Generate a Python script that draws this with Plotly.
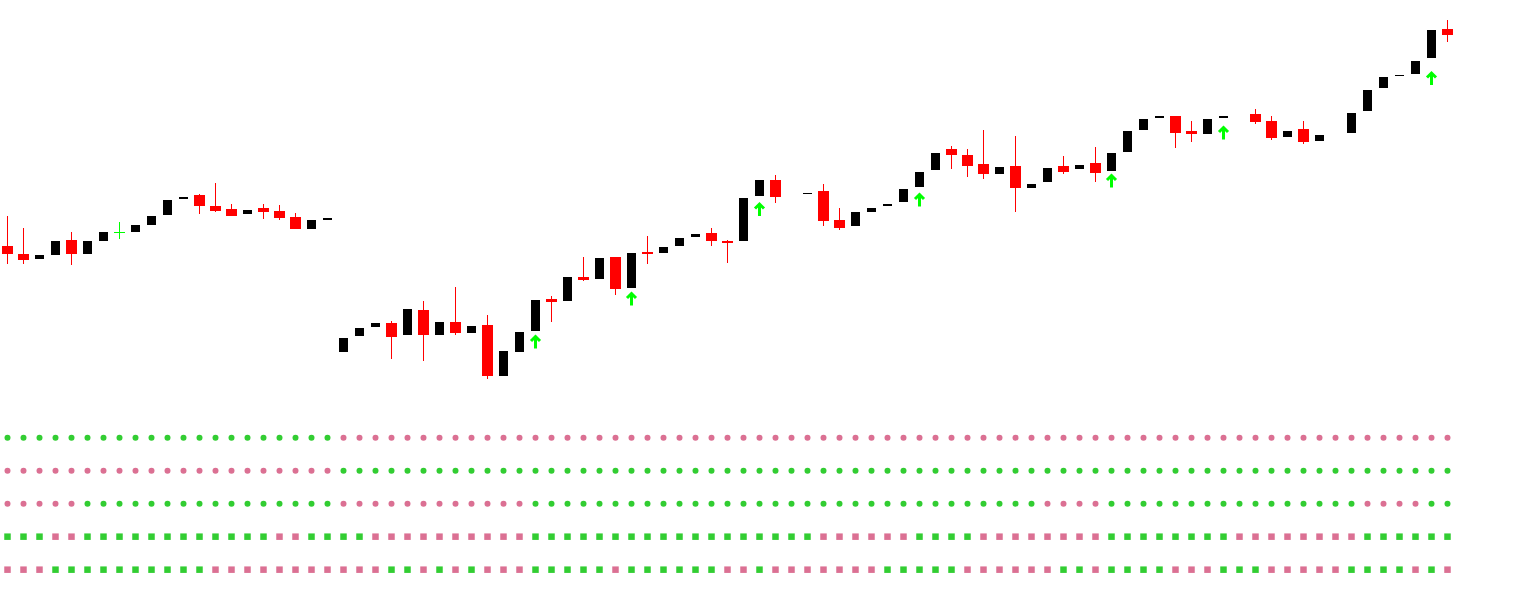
import plotly.graph_objects as go

# ---------------- data ----------------
bar_index = list(range(91))

opens = [
    115.4, 114.6, 114.1, 114.5, 116.0, 114.6, 115.9, 116.75, 116.8, 117.5,
    118.5, 120.1, 120.5, 119.4, 119.1, 118.6, 119.2, 118.9, 118.3, 117.1,
    118.0, 104.8, 106.4, 107.3, 107.7, 106.5, 109.0, 106.5, 107.8, 106.7,
    107.5, 102.4, 104.8, 106.9, 110.1, 109.9, 112.3, 112.1, 114.3, 111.2,
    114.8, 114.7, 115.4, 116.3, 116.7, 115.9, 115.9, 120.4, 122.0, None,
    120.6, 120.9, 118.0, 117.4, 118.8, 119.4, 119.8, 121.3, 123.0, 125.1,
    124.5, 123.6, 122.6, 123.4, 121.2, 121.8, 123.4, 123.1, 123.7, 122.9,
    124.8, 127.0, 128.2, 128.4, 126.9, 126.6, 128.2, None, 128.6, 127.9,
    126.3, 127.1, 125.9, None, 126.7, 128.9, 131.2, 132.4, 132.6, 134.2,
    137.1]

closes = [
    114.6, 114.0, 114.5, 115.9, 114.6, 115.9, 116.8, 116.75, 117.5, 118.4,
    120.0, 120.3, 119.4, 118.9, 118.4, 119.0, 118.8, 118.2, 117.1, 118.0,
    118.2, 106.2, 107.2, 107.7, 106.3, 109.1, 106.5, 107.8, 106.7, 107.4,
    102.4, 104.9, 106.8, 110.0, 109.8, 112.3, 112.0, 114.2, 111.1, 114.7,
    114.6, 115.3, 116.2, 116.6, 115.9, 115.7, 120.2, 122.0, 120.3, None,
    120.7, 117.9, 117.2, 118.8, 119.2, 119.6, 121.1, 122.8, 124.7, 124.5,
    123.4, 122.6, 123.3, 121.2, 121.6, 123.2, 122.8, 123.5, 122.7, 124.7,
    126.9, 128.1, 128.4, 126.7, 126.6, 128.1, 128.4, None, 127.8, 126.2,
    126.9, 125.8, 126.5, None, 128.7, 131.0, 132.3, 132.5, 133.9, 137.0,
    136.5]

highs = [
    118.4, 117.2, 114.5, 115.9, 116.8, 115.9, 116.8, 117.8, 117.5, 118.4,
    120.0, 120.3, 120.6, 121.7, 119.6, 119.0, 119.6, 119.5, 118.7, 118.0,
    118.2, 106.2, 107.2, 107.7, 107.9, 109.1, 109.9, 107.8, 111.3, 107.4,
    108.5, 104.9, 106.8, 110.0, 110.4, 112.3, 114.3, 114.2, 114.3, 114.7,
    116.4, 115.3, 116.2, 116.6, 117.2, 116.0, 120.2, 122.0, 122.5, None,
    120.7, 121.6, 119.2, 118.8, 119.2, 119.6, 121.1, 122.8, 124.7, 125.4,
    125.1, 127.0, 123.3, 126.4, 121.6, 123.2, 124.4, 123.5, 125.3, 124.7,
    126.9, 128.1, 128.4, 128.4, 127.9, 128.1, 128.4, None, 129.1, 128.4,
    126.9, 127.9, 126.5, None, 128.7, 131.0, 132.3, 132.5, 133.9, 137.0,
    138.0]

lows = [
    113.6, 113.6, 114.1, 114.5, 113.5, 114.6, 115.9, 116.1, 116.8, 117.5,
    118.5, 120.1, 118.6, 118.8, 118.4, 118.6, 118.1, 118.0, 117.1, 117.1,
    118.0, 104.8, 106.4, 107.3, 104.1, 106.5, 103.9, 106.5, 106.5, 106.7,
    102.1, 102.4, 104.8, 106.9, 107.8, 109.9, 111.9, 112.1, 110.5, 111.2,
    113.6, 114.7, 115.4, 116.3, 115.4, 113.7, 115.9, 120.4, 119.7, None,
    120.6, 117.4, 117.0, 117.4, 118.8, 119.4, 119.8, 121.3, 123.0, 123.1,
    122.3, 122.1, 122.6, 118.8, 121.2, 121.8, 122.6, 123.1, 121.8, 122.9,
    124.8, 127.0, 128.2, 125.2, 125.8, 126.6, 128.2, None, 127.6, 126.0,
    126.3, 125.6, 125.9, None, 126.7, 128.9, 131.2, 132.4, 132.6, 134.2,
    135.8]

signal_index = [33, 39, 47, 57, 69, 76, 89]
signal_price = [105.75, 110.05, 119.0, 119.95, 121.85, 126.65, 132.1]

# indicator rows: G = bullish (green), P = bearish (pink)
row_states = [
    "GGGGGGGGGG GGGGGGGGGG GPPPPPPPPP PPPPPPPPPP PPPPPPPPPP PPPPPPPPPP PPPPPPPPPP PPPPPPPPPP PPPPPPPPPP P",
    "PPPPPPPPPP PPPPPPPPPP PGGGGGGGGG GGGGGGGGGG GGGGGGGGGG GGGGGGGGGG GGGGGGGGGG GGGGGGGGGG GGGGGGGGGG G",
    "PPPPPGGGGG GGGGGGGGGG GPPPPPPPPP PPPGGGGGGG GGGGGGGGGG GGGGGGGGGG GGGGGPPPPG GGGGGGGGGG GGGGGPPPPG G",
    "GGGPPGGGGG GGGGGGGPPG GGGPPPPPPP PPPGGGGGGG GGGGGGGGGG GPPPPPPGGG GPPPPPPPPG GGGGGGGPPP PPPPPGGGGG G",
    "PPPGGGGGGG GGGPPPPPPP PPPPGGPGPG PPPGGGGGPG GGGGGPPGPP PPPPPGGGGG PPPPPPGGPG GGGPPPGGGP PPPPGGGGPG P",
]
row_states = [s.replace(" ", "") for s in row_states]
row_symbols = ["circle", "circle", "circle", "square", "square"]

# ---------------- styles ----------------
W, H = 1515, 611
PX_PER_BAR = 16.0
X_START_PX = 7.5
PRICE_TOP = 140.0
PRICE_PER_PX = 0.1
ROW0_PX, ROW_STEP_PX = 437.67, 33.0
UP_COLOR = "#000000"
DOWN_COLOR = "#FF0000"
DOJI_COLOR = "#00FF00"
ARROW_COLOR = "#00FF00"
DOT_GREEN = "#32CD32"
DOT_PINK = "#DB7093"
UP_WIDTH = 9 / PX_PER_BAR
DOWN_WIDTH = 11 / PX_PER_BAR
ARROW_HALF_H = 6.0 * PRICE_PER_PX     # half height of arrow glyph
ARROW_ARM_DX = 4.5 / PX_PER_BAR       # horizontal reach of the arrow head
ARROW_ARM_DY = 4.5 * PRICE_PER_PX     # vertical drop of the arrow head

fig = go.Figure()

up_x, up_base, up_len = [], [], []
dn_x, dn_base, dn_len = [], [], []
wick_dn_x, wick_dn_y = [], []
doji_x, doji_y = [], []
for i, o, h, l, c in zip(bar_index, opens, highs, lows, closes):
    if o is None:
        continue
    if c > o:
        up_x.append(i); up_base.append(o); up_len.append(c - o)
    elif c < o:
        dn_x.append(i); dn_base.append(c); dn_len.append(o - c)
        wick_dn_x += [i, i, None]; wick_dn_y += [h, l, None]
    else:
        half = DOWN_WIDTH / 2
        doji_x += [i - half, i + half, None, i, i, None]
        doji_y += [o, o, None, h, l, None]

fig.add_trace(go.Scatter(x=wick_dn_x, y=wick_dn_y, mode="lines",
                         line=dict(color=DOWN_COLOR, width=1), hoverinfo="skip"))
fig.add_trace(go.Bar(x=up_x, y=up_len, base=up_base, width=UP_WIDTH,
                     marker=dict(color=UP_COLOR, line=dict(width=0))))
fig.add_trace(go.Bar(x=dn_x, y=dn_len, base=dn_base, width=DOWN_WIDTH,
                     marker=dict(color=DOWN_COLOR, line=dict(width=0))))
fig.add_trace(go.Scatter(x=doji_x, y=doji_y, mode="lines",
                         line=dict(color=DOJI_COLOR, width=1), hoverinfo="skip"))

# buy-signal arrows (stem + chevron head) anchored at each signal point
arr_x, arr_y = [], []
for i, p in zip(signal_index, signal_price):
    top = p + ARROW_HALF_H
    arr_x += [i, i, None, i - ARROW_ARM_DX, i, i + ARROW_ARM_DX, None]
    arr_y += [p - ARROW_HALF_H, top, None, top - ARROW_ARM_DY, top, top - ARROW_ARM_DY, None]
fig.add_trace(go.Scatter(x=arr_x, y=arr_y, mode="lines",
                         line=dict(color=ARROW_COLOR, width=3), hoverinfo="skip"))

for r, (states, sym) in enumerate(zip(row_states, row_symbols)):
    gx = [i for i, s in zip(bar_index, states) if s == "G"]
    px_ = [i for i, s in zip(bar_index, states) if s == "P"]
    for xs, col in ((gx, DOT_GREEN), (px_, DOT_PINK)):
        fig.add_trace(go.Scatter(x=xs, y=[r] * len(xs), yaxis="y2", mode="markers",
                                 marker=dict(symbol=sym, size=6 if sym == "circle" else 6.5,
                                             color=col, line=dict(width=0))))

x0 = -X_START_PX / PX_PER_BAR

fig.update_layout(
    width=W, height=H, margin=dict(l=0, r=0, t=0, b=0),
    paper_bgcolor="white", plot_bgcolor="white", showlegend=False,
    barmode="overlay", bargap=0,
    xaxis=dict(range=[x0, x0 + W / PX_PER_BAR], visible=False, fixedrange=True),
    yaxis=dict(range=[PRICE_TOP - H * PRICE_PER_PX, PRICE_TOP], visible=False, fixedrange=True),
    yaxis2=dict(range=[(H - ROW0_PX) / ROW_STEP_PX, -ROW0_PX / ROW_STEP_PX],
                overlaying="y", visible=False, fixedrange=True),
)

fig.write_html("out.html", config={"displayModeBar": False},
               post_script="document.body.style.margin='0';document.body.style.overflow='hidden';")
